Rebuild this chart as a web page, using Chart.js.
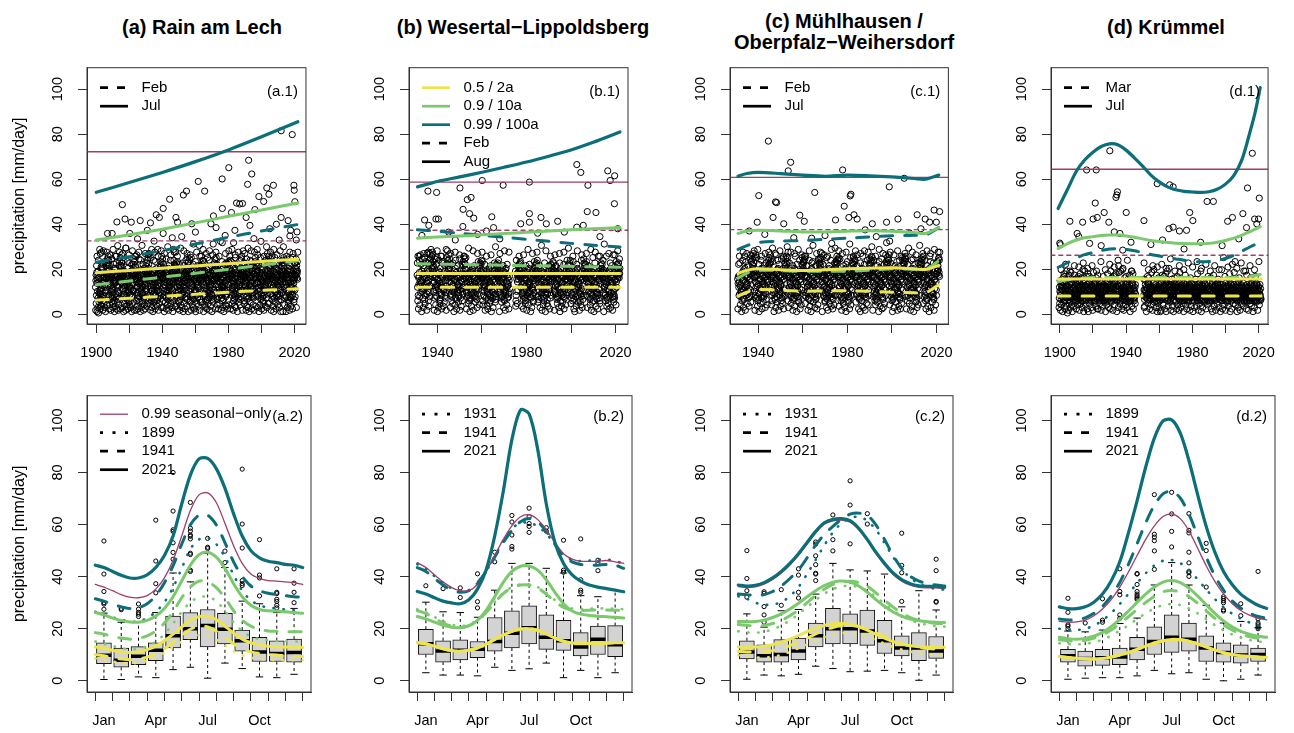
<!DOCTYPE html>
<html>
<head>
<meta charset="utf-8">
<script src="https://cdn.jsdelivr.net/npm/chart.js@4.4.1/dist/chart.umd.min.js"></script>
<style>
  html, body { margin: 0; padding: 0; background: #fff; }
  body { position: relative; width: 1294px; height: 733px; overflow: hidden; font-family: "Liberation Sans", Arial, sans-serif; }
  .ttl { position: absolute; width: 400px; text-align: center; font-weight: bold; font-size: 20px; line-height: 21px; color: #000; }
  canvas { position: absolute; }
</style>
</head>
<body>
<div class="ttl" style="left:2px;top:17px">(a) Rain am Lech</div>
<div class="ttl" style="left:323px;top:17px">(b) Wesertal−Lippoldsberg</div>
<div class="ttl" style="left:644px;top:11px">(c) Mühlhausen /<br>Oberpfalz−Weihersdorf</div>
<div class="ttl" style="left:966px;top:17px">(d) Krümmel</div>
<canvas id="a1"></canvas><canvas id="b1"></canvas><canvas id="c1"></canvas><canvas id="d1"></canvas>
<canvas id="a2"></canvas><canvas id="b2"></canvas><canvas id="c2"></canvas><canvas id="d2"></canvas>
<script>
// ---------- axes ----------
var yTicks = [0, 20, 40, 60, 80, 100];
var yearTicksLong = [1900, 1920, 1940, 1960, 1980, 2000, 2020];
var yearLabelsLong = [1900, 1940, 1980, 2020];
var yearTicksShort = [1940, 1960, 1980, 2000, 2020];
var yearLabelsShort = [1940, 1980, 2020];
var monthTicks = [1, 2, 3, 4, 5, 6, 7, 8, 9, 10, 11, 12];
var monthLabels = ["Jan", "", "", "Apr", "", "", "Jul", "", "", "Oct", "", ""];
var halfMonths = [0.5, 1, 1.5, 2, 2.5, 3, 3.5, 4, 4.5, 5, 5.5, 6, 6.5, 7, 7.5, 8, 8.5, 9, 9.5, 10, 10.5, 11, 11.5, 12, 12.5];

// ---------- top row: trend lines (quantile 0.5 / 0.9 / 0.99) ----------
var yrsA = [1900, 1920, 1940, 1960, 1980, 2000, 2022];
var aJul99 = [54.2, 58.5, 63.0, 67.8, 73.0, 78.8, 85.5];
var aJul90 = [33.0, 35.3, 37.8, 40.6, 43.5, 46.3, 49.4];
var aJul50 = [18.5, 19.5, 20.5, 21.5, 22.5, 23.5, 24.5];
var aFeb99 = [23.1, 25.6, 28.3, 31.2, 34.2, 37.0, 39.9];
var aFeb90 = [13.1, 14.8, 16.5, 18.2, 20.0, 21.8, 23.8];
var aFeb50 = [6.3, 7.1, 8.0, 8.9, 9.8, 10.6, 11.4];
var aSeas = [72.2, 32.6];

var yrsB = [1931, 1940, 1950, 1960, 1970, 1980, 1990, 2000, 2010, 2022];
var bAug99 = [56.6, 59.0, 61.0, 63.1, 65.3, 67.6, 70.2, 73.0, 76.4, 81.0];
var bAug90 = [33.8, 34.3, 34.8, 35.3, 35.9, 36.4, 37.0, 37.5, 38.0, 38.5];
var bAug50 = [18.1, 18.1, 18.1, 18.1, 18.1, 18.1, 18.1, 18.1, 18.1, 18.1];
var bFeb99 = [37.6, 36.9, 36.0, 35.1, 34.2, 33.3, 32.4, 31.5, 30.7, 29.9];
var bFeb90 = [22.4, 22.3, 22.1, 22.0, 21.8, 21.6, 21.5, 21.3, 21.1, 20.9];
var bFeb50 = [12.0, 12.0, 12.0, 12.0, 12.0, 12.0, 12.0, 12.0, 12.0, 12.0];
var bSeas = [58.7, 37.3];

var yrsC = [1931, 1935, 1940, 1950, 1960, 1970, 1980, 1990, 2000, 2010, 2015, 2021];
var cJul99 = [61.3, 62.5, 63.0, 62.5, 61.8, 61.3, 61.8, 61.5, 61.0, 60.3, 60.0, 61.8];
var cJul90 = [35.9, 37.0, 37.3, 37.0, 36.6, 36.6, 36.9, 37.1, 36.9, 36.3, 35.9, 38.5];
var cJul50 = [18.1, 19.6, 20.2, 19.8, 19.5, 19.8, 20.2, 20.5, 20.7, 20.2, 19.9, 21.7];
var cFeb99 = [28.8, 30.5, 31.9, 32.5, 32.8, 33.3, 33.8, 34.4, 34.9, 35.1, 35.2, 38.5];
var cFeb90 = [16.0, 18.3, 19.5, 19.4, 19.1, 19.1, 19.1, 19.6, 20.2, 20.0, 19.8, 23.8];
var cFeb50 = [8.1, 9.8, 11.0, 10.7, 10.3, 10.4, 10.5, 10.2, 9.8, 9.6, 9.5, 13.1];
var cSeas = [60.8, 37.6];

var yrsD = [1899, 1905, 1910, 1915, 1920, 1925, 1930, 1935, 1940, 1945, 1950, 1955, 1960, 1965, 1970, 1975, 1980, 1985, 1990, 1995, 2000, 2005, 2010, 2015, 2018, 2021];
var dJul99 = [47, 56, 63.5, 68.5, 72, 74.5, 75.7, 75.3, 72.9, 69.5, 65.8, 61.8, 58.8, 56.6, 55.3, 54.6, 54.3, 54.1, 54.4, 55.5, 57.8, 61.6, 68.8, 81.5, 90, 100.7];
var dJul90 = [29.2, 31.5, 33, 34, 34.5, 35, 35.2, 35.2, 34.8, 34.2, 33.5, 32.8, 32.3, 31.9, 31.6, 31.4, 31.3, 31.3, 31.5, 32, 32.8, 33.8, 35.2, 36.8, 37.8, 39];
var dMar99 = [20.9, 23, 25, 26.5, 27.4, 28.3, 29, 29.1, 28.8, 28.2, 27.4, 26.6, 25.9, 25.2, 24.6, 24, 23.5, 23.3, 23.4, 23.9, 24.8, 26.2, 28.1, 30, 31, 32];
var dMar90 = [14.5, 15.3, 15.8, 16.1, 16.3, 16.3, 16.3, 16.3, 16.3, 16.3, 16.3, 16.3, 16.3, 16.3, 16.3, 16.3, 16.3, 16.3, 16.3, 16.3, 16.3, 16.3, 16.5, 16.9, 17.2, 17.7];
var yrsD2 = [1899, 2021.5];
var dJul50 = [15.7, 15.7];
var dMar50 = [8.1, 8.1];
var dSeas = [64.4, 26.2];

// ---------- top row: monthly maxima, one char per point in time order (value = index * 0.6 mm/day) ----------
var enc = "0123456789abcdefghijklmnopqrstuvwxyzABCDEFGHIJKLMNOPQRSTUVWXYZ";
var cloudA = [
  "k3pt8eAvn2qhs5cwE1ro9gmbM4iufb7dzj6Kyhxlc3nBaeo8tsrpD5mgk2hiurAwCu7tFyBsHqxE",
  "e4wAqn7tlbo3dhrs9Fjcie5gk8mvpBat2yoxn6HrfsCd4ltu9mehk3bqgA7ocrDvsGt4xAuzIrCwq",
  "n5isjEt2dfwo8klhpa3Ncevr6mbqDsn4yiotg9ahleC7kpf5rjwud2Bsem8nhiuBysFv3wDtqHzAr",
  "t3qoaIl6gckve4rsbnF9dhjmp2wtEoxi5ulfa8kgnBs3ecryd7mqhv4ljAtoi6xCtwEr8uGsyBvJq",
  "p8bsenG3rdkahu5oicwt2lfmEqj9vbxsg4nDetk7ryaho6mcMlsi3pfdu8gwensDzuAx5tHrwCqFy",
  "r5kaBthm2oejsl9qdvcF4gxin7wpubeyt3Ahrkol6smEdf8cgjqn5vibt2ouMlvEqyBt6sAwuKrzC",
  "s6ecnkD4prtg9hqamoB3jlbvwi7fdsuy5xnCegr2htkA8mlopj4cvqEsdiw6nbyGrtCu2xDwqAsvF",
  "h9dtoaj3Gsnrlfe7cmkB5ubwpqi4xgvtD2hoeyrn8slAckdm6jfuqwP3tbgrp9tAvxHs9rBuzEwqD",
  "o2lmfsC7wetdk5hajnrq4xbuGgp8vycoitE3sdkhm6lnArfej2bqwo9uQtgcipwCqsFy4uAtxGvrB",
  "c7pbrAmkd4usjgot8whnSfevq3lcxDisa5kmyrbg2otjBhlen7dpwCs6fqiu4mzBruDw7sCxqHtyE",
  "g4huDtwsnek8ijrp3aRofcmlb6qyGvd5xtsBhknr2eoAiucw9lgfpmE7jsbdtqqFvtAx3yBwsLruC",
  "m8aiCsrlpokh3dwFnt6bqeju5gycvA2rmxhE9toknsDl4fwiBpgdj7cruU3enhuDyrGs6vAqtCxwM",
  "d5nwokeAj2rsthm7iGqblcfx4upvCyd9oagsr3ekBntlh6wmEjcqOoi5fpuD8srHwtBz8uDsyAqvF",
  "f3mjtrbHoe6dlwkq2sAcniGp9hvgu4yxeBrtomf7lsdCkanT5wjeqpiD2obrgtxAsuEq2wCtvGryB",
  "j7ecoEsmt2dkuhFl5wbqrp8ngaiyA3vWtxdolc6kshBmfr4euGwpqn9bjCtridsCytFv5xAruDwqK"
].join("");
var tailA = "HJLKIMHKJNILHKPJIMKHLJOIKHNLJIQKHMJLIKHRJLMIKHJNLKISHJKMILOHKJT";
var cloudB = [
  "tCkaHe4rmsEvd7oIlgpBn2wjFhcqu5AisyGtb8elDkrmo3fJnhxpCa6wgEsdlJtFwMCuHyAsKxDz",
  "nAht3ocFrke7isBmdlG2qupj5wEvgna8bytHlfe4CoskrD6mjhi9tAwcepgl3sGvBtLrEyAxIuCsF",
  "oe5ksBfrnadh8lmCuti2gpwq7jyEcvbs4oAhkrmeg9dltnF3iscpu6wjoBahfkDwAuHqCtFyBrxGs",
  "h4gndtklre8qoasjc2mbwpvf6iuhyexsl3tgkAodrn9ecmhpjb5ufwqiDsotl7uAyCrtwBsEvxqDt",
  "a7rmeskhdBo3tlncpwqi6gjf4buvsyxo8kendaAr2mthlpsc5gjeoqCwiu9fbdxtBvsAuyCrqwEtz",
  "s2lpfhnoecq9tkdmrjAw5gbsiauv3xehykt7oBnclrmfd4pgsjw6aeEhqu8otivAqtyBsuxCwrDty",
  "k6sotfemgb4dwhqnrcl8ajAupi3vexksm7yngtBlohdr2fcsq5wkjieu9mapgDtyAuwsBqvxCtrEu",
  "d9qenbhrsAt5lkmocfwg3pjui7dxavsyClnt2geohkr8mbfs6wqjAlpi4tcuoewBtxAqsyuDvrCtw",
  "i3ohgtlfArsnbdm8ckpeq5wujvC2gyaxkt6eons9hrlfdB4mcjipqs7tuwgeElqsAvyBtuwxCrsEq",
  "l8fckrsmtaeoDgh4bnp2qjwdiu6vBlxyse9kotmcn3grahf7pdEjsq5wlbiueFyCtwAursBxvqDty",
  "e5dsmAonrhtlkb7gcfq3wpuje9iGvyas2xnkCtrlod6hmbsfg4eqHjwucpi8attAxvCsuyBwqrEvx",
  "g2nkplsefaromHc6tdjbq8uhw4ivexsCk5ynglAtro3mdfhb9secpIjqwu7DokuByqAtwsCxvrFuy"
].join("");
var tailB = "HJKILHMJKIHNLJKHIOJLKHIMJKPLHIJKNHLIJMKHQJIL";
var cloudC = [
  "q4nsBkeotfCl7dmhrg2jaupEwc5ivbxHsyk3oeDltgnr8mfAhscj6pqdFwui9eDuHwBxFyAtJvCsG",
  "hr3eoIkcsnGtl6dagmbpB2fwjq8uvxEiyc4soktn9hedAmrlg5pfCbjsw7ouqtAxEuGyBwCtIvDsF",
  "k7measDogtrn2lhcfbJp5qwiduv9xEyjs3kBnoeht6rlmaFcgp8sfdwG4qujieCyAwFuHxBtDvGsK",
  "a5sfkCtronmhe8dlgjbqA3puwivcy6xsHeknot2rBfldmhg9acpsEj4qwuo7tiBtGxAuDyCwEvHsF",
  "e8tgdoAnrsklh3fcmpbEqj6wuia2vxyCsekDt9ongrlh5dmfbAcjps4qwe7uiFEwBuCyFxAtGvDsJ",
  "o2hmBsrenktdl9agfpcqj5Gwubi3vxeysA8konthEr6dlgmfc4pbjsq7uwCeieAyDuBxHwCtEvFsG",
  "s6kelFotrnahd3mgbcpq8jAwuvi5xsyeB2knohtDrg9lfmdac4psjGq7wueoitCuAwGyBxDtFvEsL",
  "n9rfesAktohlm4dgcbpjq2Cwiuvx6aysHek5ontrBgl3dfmhc8psjEqwu7oietBwFuAyCxEtHvDsG",
  "t3odnkEsrhlaem7cgfbpq9Ajwuiv2xDsyek6nothrlF4gdmcb5spjqB8wuoiIeDxAuByGwCtFvEsI",
  "l7eshCortnkdam2fgbcpq5wjuAivx9eyskDno3htrgl6dmEfcb4psjq8wuoeGiAwCuEyBxGtDvFsH",
  "d4tokaBesrnhlm8gcfp3qjwuEi6vxysFek2nothBrlg9dmfac5psjqC7wuoietByDwAuFxCtEvGsJ",
  "r8nsdoEkthlae4mgcbpqA6jwuiv2xysHekDn5othrl9gdmfCcb3psjqAw7uoieCuBwDyAxFtGvEsK"
].join("");
var tailC = "HKJILMHJKNILHOKJMIHLPJKIHMNLJKQHIJLKOHMJRKILHJNKIPHLJMK";
var cloudD = [
  "5ck8hpe3gmbj7fdli2orc9khusanp4bgfmj6cwdk1ilhq3ebt8gmfa5jdvckn7",
  "g2mqdajc6kfhtlb9eiqn4gdcmrh7afksbjp3oleuic8gdmhr5bakxfnj2ieglw",
  "c7lbiagsdm4khfue2njcs8obgqdhia5mfklcj3edbvgh9nimalf6kcrdjeb4gt",
  "h4ekcmbpd8jafgi3lnohc6bkdjsame9flgib2hcndk7jaeuomfb5gilhdc4kmw",
  "a9fjrdqkb3cgmslent7obdfkhuac2jgmilE5hdbvfkc8naewjlgm4cbxhdi6k",
  "e3gbkrifh7dmsalo5ngbcqhkd9fmitj2acbhgwd6emfnul4jbcgahdk8mfeqi5",
  "b6idmhpgk2cefjsb8nmogrkhi4acfjle7bgvhd3ikfcnjxl9bedgmhk5ctiaj2",
  "f8hcjrgbk5dmai2lnf3ohcbtgkd7jemslf4igbhuck2nqfewmal6bcgyhdk9me",
  "bk3ogcmqjh6edfl2ibnkrgh9fmdaje4lhsg7cmkfi3dnavgbh5jlkcmd8fiagc",
  "h2dnafkbgtj7meli4hcogbdka9fjmhe3lcrigd6nkhafmj2egbdlci5khmqfdg",
  "c6ikebuahm3djfnlc8gbkwhe2aimfj5lcgkbpd9eanmfji4cgkdbl7hfsaeicj",
  "e9gjahcrd4bfmil2ocghtkbe6jafml3icgbkh8dnemqfj5lgckdbi2hmfjaxcg",
  "a4mhcdkgj7ebfsl3nchgbkd9aemjf6licgkuhd2nemfaj4cglkdbi8hfmvejcD",
  "g7dkbhcfa2mjeli5oghrbkd3jfamie8lgckbhd6nfwaej9cglkdbi4htmaejcg",
  "k3fbdhgca8jmril6nhcgbkd2jfaime5lgcsbhd9nfmaej3cgldkbi7hfmaejcb"
].join("");
var tailD = "xBwAzCyAwDxBzAyEwCxAzByFwAxCzDyBwAxGzByCwAxD";
var segA = [[1899.5, 2022]];
var segB = [[1930.8, 1972.5], [1975, 2022]];
var segC = [[1930.8, 2021.5]];
var segD = [[1899.5, 1945.8], [1950.5, 2021.5]];

var outA1 = [[2011.9,81.5],[2018.6,79.8],[1992.2,68.4],[1980.2,65.1],[1961.7,59],[1976.2,60.1],[1986.8,49],[1991.6,57.7],[1994.1,62.3],[2007.2,57.3],[2019.6,57.3],[2019.8,55.1],[2020.2,50],[1965.6,54.7],[1954.6,54.7],[1952.7,53],[1944.4,51.1],[1936.3,44.2],[1938.2,43],[1940.5,47],[1915.8,48.7],[1906.8,35.9],[1912.5,41],[1917.4,42.3],[1921.2,40.9],[1926.6,41.6],[1932.8,40.6],[1948.2,43],[1949.2,40.9],[1951.7,34.5],[1970.9,43.7],[1976.3,47],[1981.8,45.2],[1984.9,49.4],[2003.2,56.1],[2004.5,53.3],[2011.9,43],[2016.1,41.6],[1998.4,52.3],[2001.3,50.1],[2017.6,37.3],[2021.5,36.6],[1990.7,43],[1983.9,37.3],[1969.4,40.2],[1957.8,40.2],[1940.5,35.9],[1930.9,37.3],[1920.3,35.9],[1909.6,35.9],[1988.5,49.2],[1996,46.5],[2009,40],[1972.5,38.5],[1960,36.5],[1946,34],[1925,33.5],[1935,32.5],[1913,30.5],[2005,38],[1993,39.5],[1978,35]];
var outB1 = [[1935.7,54.7],[1939.6,54.1],[1934.2,41.9],[1936.1,39.5],[1939.3,42.3],[1940.4,42.3],[1950.1,56.1],[1953.4,50.9],[1955.1,51.9],[1951.5,46.6],[1954.4,44.7],[1956.3,42.7],[1951.4,39],[1960.1,59.4],[1969.5,57.3],[1964.4,43.3],[1965.2,38.5],[1981.3,58.7],[1981.3,44.7],[1981.3,40.9],[1977.4,40.2],[1986.5,43],[1988.9,40.2],[1994,41.3],[2002.6,66.5],[2004.4,63],[2007.6,57.3],[2007.3,45.6],[2011.2,45.2],[2016.5,63.7],[2017.6,59.4],[2019.6,61.5],[2019.5,49.1],[2002.6,38.7],[2005.5,39.5],[1933,35],[1945,36.5],[1958,35.5],[1962,37],[1985,36],[1997,36.5],[2013,34.5],[2021,38],[1948,33],[1968,33.5]];
var outC1 = [[1944.6,76.9],[1954.6,67.5],[1953.5,63.7],[1977.9,64.1],[2005.5,60.4],[1998.8,56.6],[1965.4,54.1],[1981.6,53.3],[1981.3,52.6],[1940.3,52.7],[1947.8,49.9],[1948.3,49.6],[1978.6,48],[1946.7,43],[1939.6,40.9],[1951.5,40.2],[1958.7,44],[1960.7,41.3],[1974.7,41.9],[1980.7,43],[1983,44.2],[1984.4,42.3],[2002.7,42.3],[1991.2,40.2],[1997.6,40.9],[2011.3,44.2],[2014.9,42.3],[2018.9,46.3],[2021.4,45.6],[2016.9,40.9],[2019.9,40.9],[1964,33.8],[1936,37],[1943,35.5],[1956,34],[1970,35],[1988,37.5],[1993,34.5],[2008,36],[2013,38],[1973,31.5],[1999,32.5]];
var outD1 = [[1930.2,72.6],[1916.2,64.1],[1922,64.1],[1921.4,49.4],[1922.6,43],[1926.8,45.2],[1920.1,42.3],[1929.6,40.9],[1934.4,53],[1934.8,54.4],[1933.9,51.9],[1932.9,36.6],[1940.1,45.2],[1936.3,35.9],[1906.1,41.3],[1913.8,40.9],[1910.5,35.9],[1911.5,34.5],[1950.8,41.6],[1958.8,58],[1966.3,57.5],[1968.4,56.6],[1965.9,38],[1968.4,38.7],[1972.2,37],[1976.5,37.3],[1978.4,45.2],[1980.3,41.6],[1988.9,50.1],[1992.7,50.1],[2001.3,41.3],[2004.2,43],[2010.5,44.7],[2012.7,38.5],[2013.3,56.1],[2016.2,71.5],[2017.6,42.3],[2020,42.3],[2020.4,51.6],[2018.9,40.2],[1900,31.6],[1900.4,30.9],[1918,31.5],[1925,30.5],[1943,32],[1955,31],[1962,33],[1985,32],[1998,30.5],[2008,33.5],[1938,28.5],[1975,29]];

// ---------- bottom row: seasonal curves over half months ----------
var aS99 = [37, 36, 34.6, 33.1, 32.1, 31.9, 32.7, 35.2, 39.5, 46.3, 55.6, 65.4, 71.4, 72.2, 68.5, 60.5, 51.9, 45.1, 41, 39.3, 38.5, 38.3, 38, 37.7, 37];
var a2021q99 = [44.4, 43.5, 42, 40.5, 39.5, 39.5, 40.7, 43.5, 48.1, 55.6, 67.9, 79, 85.2, 85.4, 81.5, 74, 64.2, 55.6, 50, 47.2, 45.9, 45.4, 44.7, 44.4, 43.5];
var a2021q90 = [26.2, 25.3, 24.1, 23.2, 22.6, 22.5, 23.2, 24.9, 27.8, 32.3, 38.3, 44.4, 48.4, 49.4, 47.5, 43.2, 37.3, 32.3, 29, 27.4, 26.9, 26.8, 26.5, 26.2, 25.9];
var a2021q50 = [13, 12.6, 11.7, 11.1, 10.9, 11.1, 12, 13.3, 15.4, 17.9, 20.7, 23.2, 24.7, 24.7, 23.5, 21, 18.3, 16, 14.6, 13.8, 13.3, 13.1, 13, 13, 12.8];
var a1941q99 = [31.5, 30.6, 29.4, 28.4, 27.8, 28.1, 29.6, 32.7, 37.7, 44.2, 52.5, 59.9, 63.6, 63.6, 59.9, 53.1, 45.7, 40.1, 36.4, 34.6, 33.6, 33.1, 32.7, 32.3, 32.1];
var a1941q90 = [18.5, 17.9, 17, 16.4, 16, 16.3, 17.3, 19.1, 22.2, 26.5, 31.9, 36, 38.3, 38, 35.8, 31.9, 26.9, 23.2, 21, 19.8, 19.1, 19, 18.9, 18.8, 18.8];
var a1941q50 = [10.1, 9.6, 8.9, 8.4, 8.1, 8.4, 9.1, 10.4, 12.3, 14.8, 17.5, 19.8, 21, 20.7, 19.1, 16.7, 14.2, 12.3, 11.1, 10.5, 10.1, 9.9, 9.6, 9.5, 9.3];
var a1899q99 = [26.5, 25.7, 24.4, 23.5, 22.8, 22.8, 24.1, 26.5, 30.2, 35.8, 43.2, 50.6, 54.3, 54.9, 52.5, 47.5, 40.7, 34.6, 30.9, 29, 28.1, 27.8, 27.4, 27.2, 26.9];
var a1899q90 = [15.1, 14.2, 13.3, 12.6, 12.1, 12.3, 13.3, 15.1, 17.9, 22, 26.5, 30.2, 32.1, 32.3, 30.6, 26.9, 22.5, 19.1, 17, 16, 15.6, 15.3, 15.2, 15.1, 15.1];
var a1899q50 = [8.6, 8, 7.4, 6.9, 6.7, 6.9, 7.7, 8.9, 10.7, 13, 15.1, 16.7, 17.5, 17.3, 15.8, 13.6, 11.4, 9.9, 8.9, 8.4, 8.1, 8, 7.9, 7.9, 7.9];

var bS99 = [45.4, 43.5, 40.7, 38, 35.8, 34.6, 34.6, 37, 41.9, 48.1, 54.3, 59.5, 63, 63.8, 61.9, 58, 53.1, 48.8, 46.7, 45.9, 45.9, 45.9, 46.2, 45.7, 45.1];
var b2021q99 = [34.3, 33.3, 31.9, 30.6, 29.9, 29.6, 31.1, 35.2, 42.6, 55.6, 72.8, 92.6, 104, 102.5, 88.9, 67.9, 53.1, 45.1, 40.7, 38.3, 36.8, 36, 35.4, 34.8, 34.2];
var b2021q90 = [24.7, 23.8, 22.5, 21.3, 20.6, 20.4, 21.1, 23.2, 27, 32.3, 37.8, 42, 44, 44.1, 42.5, 38.8, 34, 29.6, 26.8, 25.6, 25.1, 24.8, 24.6, 24.4, 24.1];
var bAllq50 = [14.6, 14.2, 13.3, 12.3, 11.6, 11.4, 11.7, 12.6, 14.1, 15.9, 17.6, 19, 19.9, 20, 19.4, 18, 16.4, 15.2, 14.5, 14.3, 14.3, 14.4, 14.5, 14.6, 14.6];
var b1941q99 = [43.5, 42, 39.3, 36.8, 34.8, 34, 34.6, 37.7, 42, 47.5, 53.1, 57.8, 61.1, 62.3, 61.1, 57.4, 52.5, 48.1, 45.7, 44.7, 44.4, 44.4, 44.7, 44.4, 43.2];
var b1941q90 = [27, 25.8, 24, 22.2, 21, 20.5, 21.2, 23, 26.2, 30, 33.5, 35.8, 36.8, 36.8, 35.7, 33.3, 30.5, 28.2, 27.2, 27, 27.1, 27.2, 27.2, 27.1, 27];
var b1931q99 = [44.8, 43, 40.2, 37.5, 35.5, 34.5, 34.8, 37.5, 42, 47.8, 53.8, 58.5, 60.5, 60.8, 59.3, 56.5, 52.3, 48.5, 46.5, 46, 46.2, 46.5, 46.6, 46, 45];
var b1931q90 = [27.5, 26.3, 24.5, 22.8, 21.6, 21, 21.6, 23.4, 26.5, 30.2, 33.7, 36, 37, 37, 36, 33.8, 31, 28.8, 27.8, 27.6, 27.7, 27.8, 27.8, 27.7, 27.5];

var cS99 = [36.2, 35.8, 36.1, 37.1, 38.9, 41.4, 44.5, 48.2, 52.5, 56.8, 60.1, 61.4, 61.7, 60.9, 58, 53.7, 48.8, 44.5, 40.8, 38.3, 36.7, 35.9, 35.7, 35.7, 35.4];
var c2021q99 = [36.8, 36.4, 36.7, 37.7, 39.5, 42, 45.1, 48.8, 53.1, 57.4, 60.7, 62, 62.3, 61.5, 58.6, 54.3, 49.4, 45.1, 41.4, 38.9, 37.3, 36.5, 36.3, 36.3, 36];
var c2021q90 = [22.8, 22.7, 22.8, 23.3, 24.3, 25.7, 27.6, 29.8, 32.3, 34.6, 36.6, 37.9, 38.3, 37.9, 36.4, 34, 31.2, 28.6, 26.4, 24.8, 23.7, 23.1, 22.7, 22.5, 22.4];
var c2021q50 = [13, 12.9, 13, 13.3, 13.9, 14.8, 16, 17.4, 18.9, 20.3, 21.3, 21.9, 22, 21.7, 20.8, 19.5, 17.9, 16.4, 15.1, 14.1, 13.5, 13.1, 12.9, 12.9, 12.9];
var c1941q99 = [33.3, 33.1, 32.7, 33.1, 34.3, 36.4, 39.3, 42.6, 47.2, 52.1, 56.2, 59.3, 62, 64, 64.4, 63.6, 59.9, 54.3, 48.1, 43.2, 40.1, 38.3, 37.3, 36.8, 36.4];
var c1941q90 = [21.6, 21.3, 21, 21.2, 22, 23.2, 25, 27.2, 30, 32.8, 35.2, 37, 38, 38.2, 37.7, 36.3, 33.8, 31, 28.3, 26, 24.3, 23.2, 22.5, 22.1, 21.9];
var c1941q50 = [11.3, 11.1, 11, 11.1, 11.6, 12.4, 13.5, 14.9, 16.4, 18, 19.4, 20.5, 21.1, 21.2, 20.8, 19.8, 18.4, 16.9, 15.5, 14.3, 13.4, 12.8, 12.4, 12.2, 12.1];
var c1931q99 = [32.5, 31.5, 30, 29.2, 29.3, 30.2, 32.5, 36, 41, 46.5, 52, 57, 60.5, 62.5, 63, 61.5, 58, 53, 47.5, 43, 39.5, 37.3, 36, 35.3, 35];
var c1931q90 = [19, 18.6, 18.5, 18.8, 19.8, 21.2, 23.2, 25.6, 28.3, 31, 33.4, 35.2, 36.2, 36.5, 36, 34.6, 32.2, 29.6, 27, 25, 23.3, 22.2, 21.5, 21, 20.8];
var c1931q50 = [9.8, 9.4, 9, 8.9, 9.2, 10, 11.1, 12.5, 14, 15.5, 16.8, 17.8, 18.3, 18.4, 18, 17, 15.7, 14.3, 13, 12, 11.2, 10.6, 10.2, 9.9, 9.7];

var dS99 = [22.8, 22.5, 22.6, 23.3, 25, 27.6, 31.2, 36, 41.8, 48.1, 54.3, 59.5, 63.1, 64.1, 62.3, 57.6, 51, 44.2, 38.2, 33.4, 29.7, 27, 25.2, 24, 23.4];
var d2021q99 = [28.4, 27.7, 27.7, 28.4, 30.2, 33.3, 38.3, 45.7, 56.8, 69.1, 82.1, 93.2, 99.8, 100.2, 95.1, 84.6, 71.6, 59.3, 49.4, 42, 37, 33.3, 30.9, 29, 27.8];
var d2021q90 = [16.7, 16.2, 16, 16.3, 17.1, 18.6, 20.8, 23.6, 26.8, 30.1, 33.3, 36, 37.9, 38.5, 37.7, 35.6, 32.6, 29.2, 25.9, 23, 20.7, 19, 17.9, 17.1, 16.7];
var dAllq50 = [9.3, 9, 8.7, 8.5, 8.4, 8.6, 9.1, 9.9, 10.9, 12.1, 13.3, 14.5, 15.4, 15.9, 15.8, 15.2, 14.2, 13, 11.8, 10.8, 10.1, 9.6, 9.3, 9.1, 9];
var d1941q99 = [23.7, 23.4, 23.5, 24.2, 25.9, 28.6, 32.5, 37.8, 44.7, 52.6, 60.7, 67.4, 71.8, 72.8, 70.2, 64, 55.7, 47.5, 40.3, 34.8, 30.7, 27.9, 26, 24.7, 24];
var d1941q90 = [15.8, 15.4, 15.3, 15.6, 16.4, 17.7, 19.5, 21.9, 24.6, 27.4, 30.1, 32.5, 34.2, 34.7, 34.1, 32.4, 29.8, 26.9, 24, 21.5, 19.5, 18, 17, 16.3, 15.9];
var d1899q99 = [20, 19.6, 19.5, 20, 21.2, 23.2, 26, 29.5, 33.4, 37.5, 41.3, 44.3, 46.1, 46.4, 45.2, 42.6, 39, 35.1, 31.4, 28.3, 25.8, 23.9, 22.4, 21.3, 20.6];
var d1899q90 = [14.4, 14.1, 14, 14.2, 14.8, 15.8, 17.3, 19.2, 21.4, 23.7, 25.9, 27.8, 29.1, 29.5, 29.1, 27.8, 25.9, 23.7, 21.4, 19.4, 17.8, 16.6, 15.7, 15.1, 14.7];

// ---------- bottom row: monthly box plots ----------
var aLo = [0.5, 0.5, 1.5, 1.2, 4.3, 5.2, 1.0, 6.8, 4.7, 1.5, 1.2, 2.5];
var aQ1 = [6.6, 5.2, 6.2, 7.7, 12.6, 15.8, 13.0, 14.2, 11.4, 7.4, 7.4, 7.2];
var aMed = [9.8, 7.9, 9.4, 11.7, 17.3, 20.0, 21.2, 19.8, 15.4, 11.1, 10.5, 10.9];
var aQ3 = [14.6, 12.6, 13.1, 14.6, 24.9, 26.2, 27.4, 25.9, 19.5, 16.7, 15.4, 16.0];
var aHi = [26.0, 22.5, 22.5, 26.2, 41.4, 38.0, 49.0, 43.5, 30.6, 29.6, 26.2, 27.8];
var aOut = [[27.5, 29.5, 30, 34.3, 41, 53.7], [27.3, 27.8], [24.7, 25.6, 26.3, 27.5, 29.5], [33.8, 37.3, 46, 61.7], [46.7, 49.3, 53, 57.4, 58, 65.2, 80], [42, 42.5, 48.5, 49, 54.5, 55.5, 56, 57.5, 58.6, 68.5], [50.8, 51.3, 54.7], [45.4, 49.8], [36.6, 37.3, 38.5, 51, 60.2, 81.3], [32.6, 39.5, 40.6, 54.2], [28, 29, 30.5, 31.3, 33.5, 34, 43], [30, 34, 37.5, 43]];

var bLo = [3.1, 2.2, 2.2, 1.9, 5.2, 4.0, 4.6, 6.8, 1.2, 4.0, 1.2, 3.1];
var bQ1 = [10.1, 7.2, 8.0, 8.9, 11.4, 12.6, 14.2, 12.1, 11.7, 9.6, 10.1, 9.3];
var bMed = [14.2, 11.4, 11.7, 12.1, 15.1, 18.3, 20.4, 16.7, 15.4, 13.0, 16.0, 13.8];
var bQ3 = [19.8, 15.4, 15.7, 15.1, 24.3, 26.9, 28.8, 25.3, 23.2, 18.5, 21.0, 21.2];
var bHi = [30.2, 26.5, 26.2, 24.4, 34.8, 45.1, 45.1, 43.2, 41.4, 32.7, 32.3, 34.8];
var bOut = [[36.5], [35.4], [32, 35.7], [28, 30.4, 41.1], [45.7, 49.4], [50.6, 51.6, 56, 61, 63.5], [57, 59.3, 60.4, 63, 66.3], [57.5, 58.8], [41.7, 42.5, 54], [34, 34.8, 38.8, 54.5], [42.3, 45.3, 46.3], []];

var cLo = [0.6, 2.2, 1.9, 2.5, 5.6, 4.7, 3.5, 3.7, 4.0, 3.1, 0.2, 2.2];
var cQ1 = [8.4, 7.2, 7.2, 8.0, 13.0, 14.2, 14.2, 13.6, 10.5, 9.6, 7.7, 8.6];
var cMed = [11.1, 9.6, 10.1, 11.4, 17.3, 20.0, 20.0, 19.1, 15.4, 12.6, 12.6, 11.4];
var cQ3 = [15.4, 13.8, 15.8, 16.4, 22.2, 27.8, 25.7, 27.2, 23.2, 17.3, 18.5, 17.0];
var cHi = [25.7, 20.6, 26.9, 27.4, 33.3, 45.1, 42.6, 42.2, 41.0, 28.4, 34.6, 27.2];
var cOut = [[32.1, 34.6, 39.3, 50], [22.5, 25.3, 28.5, 33.6, 34.2], [29, 35], [31.8, 34, 40.6, 43], [38.5, 41, 41.3, 44.6, 48, 52.5, 53.3], [49.9, 54.2, 63.7], [52.6, 67.5, 76.8], [60.2, 64.2], [], [30.5, 41.5, 44.3, 56.7], [], [30.2, 30.5, 42.3, 46.7]];

var dLo = [0.6, 1.0, 1.2, 1.2, 1.9, 4.0, 2.7, 3.1, 0.6, 0.0, 0.6, 2.2];
var dQ1 = [7.2, 5.6, 5.9, 6.2, 8.0, 10.1, 10.9, 11.4, 7.4, 7.2, 6.8, 7.4];
var dMed = [9.6, 8.6, 8.9, 9.1, 12.1, 15.1, 16.7, 16.0, 12.6, 10.9, 9.9, 10.1];
var dQ3 = [12.1, 11.4, 12.1, 12.6, 16.7, 20.7, 25.3, 22.2, 17.3, 14.6, 13.8, 12.6];
var dHi = [19.1, 18.8, 19.5, 22.0, 24.1, 36.8, 45.4, 36.8, 29.0, 22.2, 22.8, 20.4];
var dOut = [[20, 21, 21.5, 26.3, 31.7], [22.2], [22.5, 23.3, 31.5], [24, 25.3, 33, 34.3, 43], [31.3, 31.8, 32.5, 33.3, 34.3, 37, 41, 41.2], [42.8, 49.9, 53.8, 55.2, 56.3, 71.5], [51.4, 57.4, 64.1, 72.4], [40.1, 41.5, 42, 45.3, 49.4, 56.8, 57.8, 64.2], [36, 50, 52.8], [26.8, 27.3, 30, 30.8, 31.6, 32.3], [25, 29.6], [20, 20.7, 21.5, 22.2, 23.8, 42]];

// ---------- styling ----------
var FONT = '"Liberation Sans", Arial, Helvetica, sans-serif';
var TEAL = "#0B6E78", GREEN = "#7AC96C", YELLOW = "#EDE54E", MAROON = "#9B3F69";
var DASH = [12, 12], DOT = [0.5, 9.5];
var LDASH = [8, 9], LDOT = [3, 9.5];
var boxLeft = [87, 408.7, 730, 1051.3];
var boxRight = [316, 636.7, 957.7, 1280];
var rowTop = [57.3, 385];
var rowBottom = [324, 691.7];

Chart.register({
    id: "rDeco",
    afterDatasetsDraw: function (chart, args, o) {
        var ctx = chart.ctx, a = chart.chartArea;
        ctx.save();
        ctx.strokeStyle = "#333";
        ctx.lineWidth = 1;
        ctx.strokeRect(a.left, a.top, a.right - a.left, a.bottom - a.top);
        ctx.font = "15px " + FONT;
        ctx.fillStyle = "#000";
        ctx.textBaseline = "middle";
        (o.legend || []).forEach(function (it, i) {
            var y = a.top + o.legendY + i * 18.5;
            ctx.beginPath();
            ctx.strokeStyle = it[1];
            ctx.lineWidth = it[2];
            ctx.setLineDash(it[3]);
            ctx.moveTo(a.left + 13, y);
            ctx.lineTo(a.left + 41, y);
            ctx.stroke();
            ctx.setLineDash([]);
            ctx.textAlign = "left";
            ctx.fillText(it[0], a.left + 54.5, y);
        });
        if (o.tag) {
            ctx.textAlign = "right";
            ctx.fillText(o.tag, a.right - 8, a.top + o.tagY);
        }
        ctx.restore();
    }
});

function curve(xs, ys, color, width, dash, order) {
    return {
        type: "scatter", showLine: true, order: order,
        data: xs.map(function (x, i) { return { x: x, y: ys[i] }; }),
        borderColor: color, borderWidth: width, borderDash: dash,
        borderCapStyle: "round", borderJoinStyle: "round",
        pointRadius: 0, pointHoverRadius: 0, tension: 0.3, fill: false
    };
}
function circles(pts, r, order) {
    return {
        type: "scatter", order: order, data: pts, showLine: false,
        pointStyle: "circle", pointRadius: r, pointBorderWidth: 1,
        pointBorderColor: "#000", pointBackgroundColor: "rgba(0,0,0,0)"
    };
}
function cloudPoints(strs, segs, extra) {
    var total = segs.reduce(function (s, g) { return s + g[1] - g[0]; }, 0);
    var pts = [];
    strs.forEach(function (str) {
        for (var i = 0; i < str.length; i++) {
            var t = (i + 0.5) / str.length * total, k = 0;
            while (t > segs[k][1] - segs[k][0]) { t -= segs[k][1] - segs[k][0]; k++; }
            pts.push({ x: segs[k][0] + t, y: enc.indexOf(str[i]) * 0.6 });
        }
    });
    extra.forEach(function (p) { pts.push({ x: p[0], y: p[1] }); });
    return pts;
}
function boxSets(lo, q1, med, q3, hi, outs) {
    var wh = [], st = [], md = [], bars = [], op = [];
    monthTicks.forEach(function (m, i) {
        wh.push({ x: m, y: q3[i] }, { x: m, y: hi[i] }, { x: m, y: null }, { x: m, y: q1[i] }, { x: m, y: lo[i] }, { x: m, y: null });
        st.push({ x: m, y: lo[i] }, { x: m, y: hi[i] });
        md.push({ x: m, y: med[i] });
        bars.push({ x: m, y: [q1[i], q3[i]] });
        outs[i].forEach(function (v) { op.push({ x: m, y: v }); });
    });
    return [
        { type: "scatter", showLine: true, spanGaps: false, order: 30, data: wh, borderColor: "#000", borderWidth: 1, borderDash: [3, 3], pointRadius: 0, tension: 0 },
        { type: "bar", order: 29, data: bars, backgroundColor: "#D3D3D3", borderColor: "#111", borderWidth: 1, borderSkipped: false, barThickness: 15 },
        { type: "scatter", order: 28, data: md, pointStyle: "line", pointRadius: 7.5, pointBorderWidth: 3.5, pointBorderColor: "#000" },
        { type: "scatter", order: 28, data: st, pointStyle: "line", pointRadius: 3.7, pointBorderWidth: 1, pointBorderColor: "#000" },
        circles(op, 2.1, 28)
    ];
}

function makeChart(id, col, row, xMin, xMax, xTicks, xLabel, datasets, deco) {
    var cv = document.getElementById(id);
    var left = Math.round(boxLeft[col] - 87), top = Math.round(rowTop[row] - 6);
    cv.style.left = left + "px";
    cv.style.top = top + "px";
    cv.width = Math.round(boxRight[col] + 6) - left;
    cv.height = Math.round(rowBottom[row] + 46) - top;
    var tickFont = { family: FONT, size: 14.5 };
    return new Chart(cv, {
        type: "scatter",
        data: { datasets: datasets },
        options: {
            responsive: false, animation: false, events: [],
            layout: { padding: { top: 6, right: 6, left: 0, bottom: 0 } },
            plugins: { legend: { display: false }, tooltip: { enabled: false }, rDeco: deco },
            scales: {
                x: {
                    type: "linear", min: xMin, max: xMax, offset: false,
                    afterBuildTicks: function (ax) { ax.ticks = xTicks.map(function (v) { return { value: v }; }); },
                    afterFit: function (ax) { ax.height = 46; },
                    grid: { drawOnChartArea: false, drawTicks: true, tickLength: 9, color: "#333" },
                    border: { display: true, color: "#333", width: 1 },
                    ticks: { autoSkip: false, maxRotation: 0, minRotation: 0, padding: 11, color: "#000", font: tickFont, callback: xLabel }
                },
                y: {
                    type: "linear", min: -4.3, max: 109.5,
                    afterBuildTicks: function (ax) { ax.ticks = yTicks.map(function (v) { return { value: v }; }); },
                    afterFit: function (ax) { ax.width = 87; },
                    grid: { drawOnChartArea: false, drawTicks: true, tickLength: 9, color: "#333" },
                    border: { display: true, color: "#333", width: 1 },
                    ticks: { minRotation: 90, maxRotation: 90, crossAlign: "center", padding: 8, color: "#000", font: tickFont },
                    title: { display: col === 0, text: "precipitation [mm/day]", color: "#000", font: { family: FONT, size: 16 }, padding: { top: 10, bottom: 0 } }
                }
            }
        }
    });
}

function yearLabel(list) {
    return function (v) { return list.indexOf(v) >= 0 ? String(v) : ""; };
}
function monthLabel(v) { return monthLabels[v - 1] || ""; }

function topSets(xs, q50, q90, q99, xs2, p50, p90, p99, seas, xMin, xMax, cloud) {
    return [
        curve(xs, q50, YELLOW, 3, [], 3), curve(xs, q90, GREEN, 3, [], 3), curve(xs, q99, TEAL, 3.2, [], 2),
        curve(xs2[0], p50, YELLOW, 3, DASH, 4), curve(xs2[1], p90, GREEN, 3, DASH, 4), curve(xs2[2], p99, TEAL, 3, DASH, 4),
        curve([xMin, xMax], [seas[0], seas[0]], MAROON, 1.4, [], 6),
        curve([xMin, xMax], [seas[1], seas[1]], MAROON, 1.4, [4, 4], 6),
        circles(cloud, 3.1, 10)
    ];
}
function bottomSets(box, s99, n50, n90, n99, m50, m90, m99, o50, o90, o99) {
    return box.concat([
        curve(halfMonths, o50, YELLOW, 2.6, DOT, 8), curve(halfMonths, o90, GREEN, 2.6, DOT, 8), curve(halfMonths, o99, TEAL, 2.6, DOT, 8),
        curve(halfMonths, m50, YELLOW, 3, DASH, 7), curve(halfMonths, m90, GREEN, 3, DASH, 7), curve(halfMonths, m99, TEAL, 3, DASH, 7),
        curve(halfMonths, s99, MAROON, 1.3, [], 6),
        curve(halfMonths, n50, YELLOW, 3, [], 5), curve(halfMonths, n90, GREEN, 3, [], 5), curve(halfMonths, n99, TEAL, 3.2, [], 4)
    ]);
}

var legFebJul = [["Feb", "#000", 2.7, LDASH], ["Jul", "#000", 2.7, []]];
var legB1 = [["0.5 / 2a", YELLOW, 2.7, []], ["0.9 / 10a", GREEN, 2.7, []], ["0.99 / 100a", TEAL, 2.7, []], ["Feb", "#000", 2.7, LDASH], ["Aug", "#000", 2.7, []]];
var legD1 = [["Mar", "#000", 2.7, LDASH], ["Jul", "#000", 2.7, []]];

makeChart("a1", 0, 0, 1894.4, 2026.9, yearTicksLong, yearLabel(yearLabelsLong),
    topSets(yrsA, aJul50, aJul90, aJul99, [yrsA, yrsA, yrsA], aFeb50, aFeb90, aFeb99, aSeas, 1894.4, 2026.9, cloudPoints([cloudA, tailA], segA, outA1)),
    { legend: legFebJul, legendY: 20, tag: "(a.1)", tagY: 24 });
makeChart("b1", 1, 0, 1927.2, 2025.6, yearTicksShort, yearLabel(yearLabelsShort),
    topSets(yrsB, bAug50, bAug90, bAug99, [yrsB, yrsB, yrsB], bFeb50, bFeb90, bFeb99, bSeas, 1927.2, 2025.6, cloudPoints([cloudB, tailB], segB, outB1)),
    { legend: legB1, legendY: 20, tag: "(b.1)", tagY: 24 });
makeChart("c1", 2, 0, 1927.4, 2025.3, yearTicksShort, yearLabel(yearLabelsShort),
    topSets(yrsC, cJul50, cJul90, cJul99, [yrsC, yrsC, yrsC], cFeb50, cFeb90, cFeb99, cSeas, 1927.4, 2025.3, cloudPoints([cloudC, tailC], segC, outC1)),
    { legend: legFebJul, legendY: 20, tag: "(c.1)", tagY: 24 });
makeChart("d1", 3, 0, 1894.7, 2025.7, yearTicksLong, yearLabel(yearLabelsLong),
    [curve(yrsD2, dJul50, YELLOW, 3, [], 3), curve(yrsD, dJul90, GREEN, 3, [], 3), curve(yrsD, dJul99, TEAL, 3.2, [], 2),
     curve(yrsD2, dMar50, YELLOW, 3, DASH, 4), curve(yrsD, dMar90, GREEN, 3, DASH, 4), curve(yrsD, dMar99, TEAL, 3, DASH, 4),
     curve([1894.7, 2025.7], [dSeas[0], dSeas[0]], MAROON, 1.4, [], 6),
     curve([1894.7, 2025.7], [dSeas[1], dSeas[1]], MAROON, 1.4, [4, 4], 6),
     circles(cloudPoints([cloudD, tailD], segD, outD1), 3.1, 10)],
    { legend: legD1, legendY: 20, tag: "(d.1)", tagY: 24 });

makeChart("a2", 0, 1, 0.02, 12.98, monthTicks, monthLabel,
    bottomSets(boxSets(aLo, aQ1, aMed, aQ3, aHi, aOut), aS99, a2021q50, a2021q90, a2021q99, a1941q50, a1941q90, a1941q99, a1899q50, a1899q90, a1899q99),
    { legend: [["0.99 seasonal−only", MAROON, 1.3, []], ["1899", "#000", 2.7, LDOT], ["1941", "#000", 2.7, LDASH], ["2021", "#000", 2.7, []]], legendY: 18.5, tag: "(a.2)", tagY: 21 });
makeChart("b2", 1, 1, 0.02, 12.98, monthTicks, monthLabel,
    bottomSets(boxSets(bLo, bQ1, bMed, bQ3, bHi, bOut), bS99, bAllq50, b2021q90, b2021q99, bAllq50, b1941q90, b1941q99, bAllq50, b1931q90, b1931q99),
    { legend: [["1931", "#000", 2.7, LDOT], ["1941", "#000", 2.7, LDASH], ["2021", "#000", 2.7, []]], legendY: 18.5, tag: "(b.2)", tagY: 21 });
makeChart("c2", 2, 1, 0.02, 12.98, monthTicks, monthLabel,
    bottomSets(boxSets(cLo, cQ1, cMed, cQ3, cHi, cOut), cS99, c2021q50, c2021q90, c2021q99, c1941q50, c1941q90, c1941q99, c1931q50, c1931q90, c1931q99),
    { legend: [["1931", "#000", 2.7, LDOT], ["1941", "#000", 2.7, LDASH], ["2021", "#000", 2.7, []]], legendY: 18.5, tag: "(c.2)", tagY: 21 });
makeChart("d2", 3, 1, 0.02, 12.98, monthTicks, monthLabel,
    bottomSets(boxSets(dLo, dQ1, dMed, dQ3, dHi, dOut), dS99, dAllq50, d2021q90, d2021q99, dAllq50, d1941q90, d1941q99, dAllq50, d1899q90, d1899q99),
    { legend: [["1899", "#000", 2.7, LDOT], ["1941", "#000", 2.7, LDASH], ["2021", "#000", 2.7, []]], legendY: 18.5, tag: "(d.2)", tagY: 21 });
</script>
</body>
</html>
